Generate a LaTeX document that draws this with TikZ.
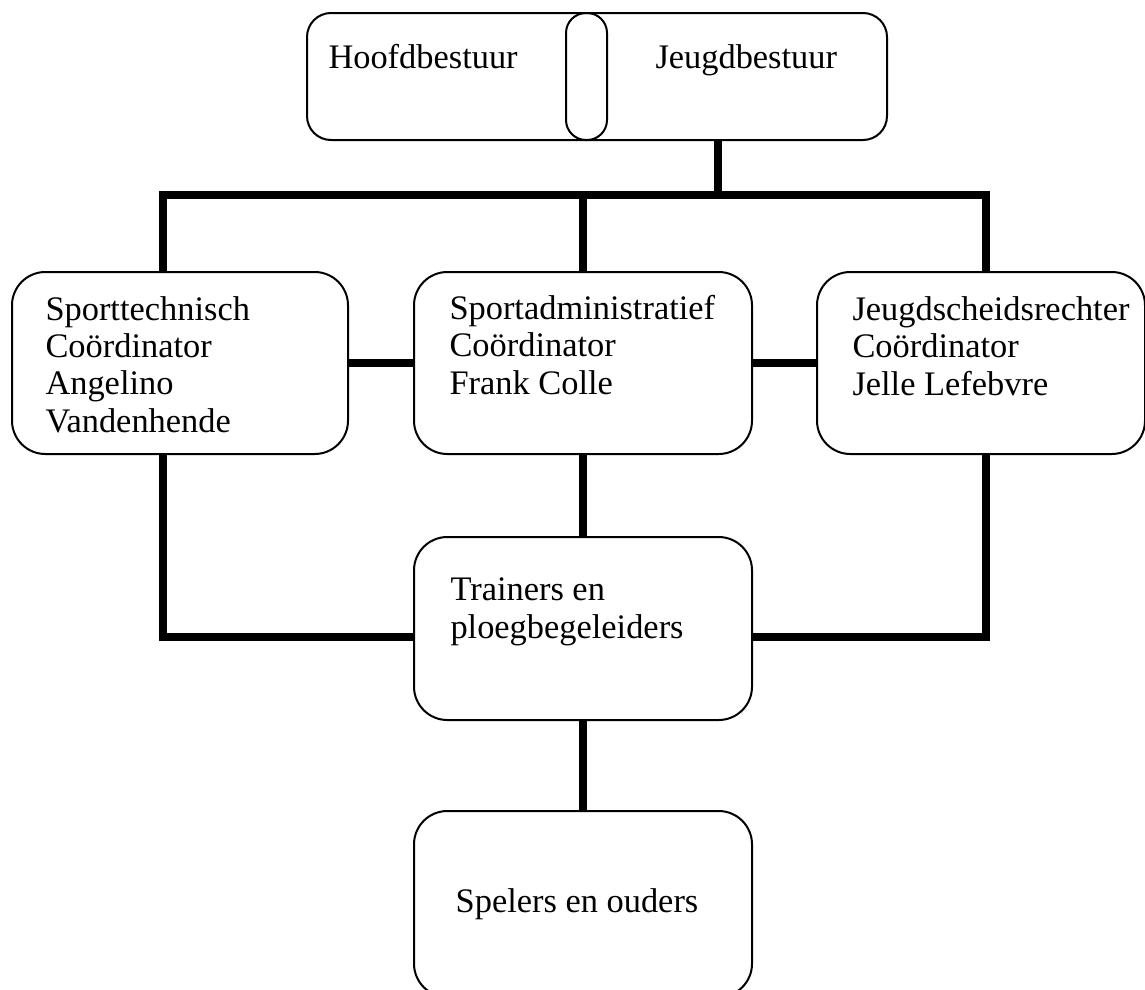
\documentclass[tikz,border=0pt]{standalone}
\usepackage{fontspec}
\setmainfont{Liberation Serif}
\usetikzlibrary{fit}

\tikzset{every picture/.style={line width=0.75pt}}
\tikzset{
	orgbox/.style={draw, line width=1.5pt, rounded corners=25pt, inner sep=0pt},
	topbox/.style={draw, line width=1.5pt, rounded corners=18pt, inner sep=0pt},
	pill/.style={draw, line width=1.5pt, rounded corners=15pt, inner sep=0pt},
	conn/.style={line width=6pt},
	lbl/.style={font=\fontsize{25.8}{28}\selectfont, inner sep=0pt, align=left}
}

\begin{document}
\begin{tikzpicture}[x=0.75pt,y=0.75pt,yscale=-1,xscale=1]
	\useasboundingbox (0,0) rectangle (1145,989);

	%Shape: Rounded Rect [bestuur]
	\node[topbox, fit={(307,13) (887,140)}] (bestuur) {};
	%Shape: Pill [scheiding]
	\node[pill, fit={(566,13) (607,140)}] (scheiding) {};
	%Shape: Rounded Rect [techn]
	\node[orgbox, fit={(12,272) (348,454)}] (techn) {};
	%Shape: Rounded Rect [admin]
	\node[orgbox, fit={(414,272) (752,454)}] (admin) {};
	%Shape: Rounded Rect [scheids]
	\node[orgbox, fit={(817,272) (1145,454)}] (scheids) {};
	%Shape: Rounded Rect [trainers]
	\node[orgbox, fit={(414,537) (752,720)}] (trainers) {};
	%Shape: Rounded Rect [spelers]
	\node[orgbox, fit={(414,811) (752,997)}] (spelers) {};

	%Bus points
	\coordinate (bus) at (718,195);
	\coordinate (busL) at (163,195);
	\coordinate (busR) at (986,195);
	\coordinate (lowL) at (163,637);
	\coordinate (lowR) at (986,637);

	%Straight Lines [top]
	\draw[conn] (bus |- bestuur.south) -- (bus);
	\draw[conn] (busL |- techn.north) -- (busL) -- (busR) -- (busR |- scheids.north);
	\draw[conn] (admin.north) -- (admin.north |- busL);
	%Straight Lines [middle]
	\draw[conn] (techn.east) -- (admin.west);
	\draw[conn] (admin.east) -- (scheids.west);
	%Straight Lines [lower]
	\draw[conn] (busL |- techn.south) -- (lowL) -- (lowL -| trainers.west);
	\draw[conn] (busR |- scheids.south) -- (lowR) -- (lowR -| trainers.east);
	\draw[conn] (admin.south) -- (trainers.north);
	\draw[conn] (trainers.south) -- (spelers.north);

	% Text Node
	\node[lbl, anchor=base west] (hoofdtxt) at (328,68) {Hoofdbestuur};
	% Text Node
	\node[lbl, anchor=base west] (jeugdtxt) at (655,68) {Jeugdbestuur};
	% Text Node (base = last line)
	\node[lbl, anchor=base west] (technTxt) at (45,432) {Sporttechnisch\\Coördinator\\Angelino\\Vandenhende};
	% Text Node
	\node[lbl, anchor=base west] (adminTxt) at (449,394) {Sportadministratief\\Coördinator\\Frank Colle};
	% Text Node
	\node[lbl, anchor=base west] (scheidsTxt) at (852,395) {Jeugdscheidsrechter\\Coördinator\\Jelle Lefebvre};
	% Text Node
	\node[lbl, anchor=base west] (trainersTxt) at (450,638) {Trainers en\\ploegbegeleiders};
	% Text Node
	\node[lbl, anchor=base] (spelersTxt) at (577,912) {Spelers en ouders};

\end{tikzpicture}
\end{document}
